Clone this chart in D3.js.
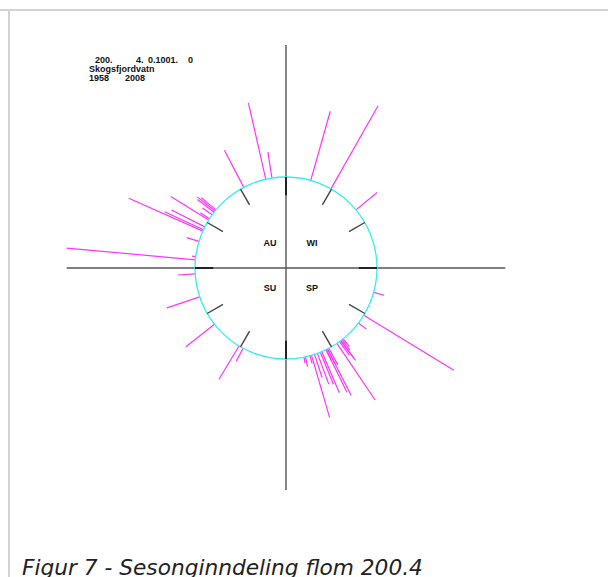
<!DOCTYPE html>
<html>
<head>
<meta charset="utf-8">
<script src="https://cdn.jsdelivr.net/npm/d3@7"></script>
<style>
  body { margin: 0; background: #fff; }
  svg { display: block; }
</style>
</head>
<body>
<div id="chart"></div>
<script>
// flood events: day of year (1 Jan at top, clockwise) and flood size relative to the circle
const floodDays = [16, 30, 51, 107, 123, 129,
  143, 144, 145, 145, 146, 148, 154, 155, 155, 156, 156, 159, 160, 162, 164, 166, 167, 170, 171,
  211, 214, 235, 255, 270, 279, 281, 291,
  298, 299, 301, 306, 307, 310, 312, 313, 314, 337, 352, 356];
const floodSize = [1.79, 2.05, 1.30, 1.12, 2.16, 1.11,
  1.11, 1.14, 1.27, 1.24, 1.18, 1.75, 1.21, 1.57, 1.18, 1.13, 1.52, 1.49, 1.38, 1.36, 1.27, 1.71, 1.09, 1.11, 1.07,
  1.16, 1.43, 1.40, 1.38, 1.19, 2.42, 1.04, 1.14,
  1.89, 1.47, 1.41, 1.49, 1.12, 1.13, 1.23, 1.25, 1.21, 1.46, 1.86, 1.29];
const seasons = ['WI', 'SP', 'SU', 'AU'];
const headerLines = [['200.', '4.', '0.1001.', '0'], ['Skogsfjordvatn'], ['1958', '2008']];
const caption = 'Figur 7 - Sesonginndeling flom 200.4';

const floods = floodDays.map((d, i) => ({day: d, size: floodSize[i]}));

const width = 608, height = 577;
const cx = 286, cy = 268;

const svg = d3.select('#chart').append('svg')
    .attr('width', width)
    .attr('height', height);

// page frame
svg.append('line').attr('x1', 0).attr('x2', width).attr('y1', 10).attr('y2', 10)
    .attr('stroke', '#d3d3d3').attr('stroke-width', 2);
svg.append('line').attr('x1', 9).attr('x2', 9).attr('y1', 10).attr('y2', height)
    .attr('stroke', '#d3d3d3').attr('stroke-width', 2);

const g = svg.append('g').attr('transform', `translate(${cx},${cy})`);

// scales
const angle = d3.scaleLinear().domain([0, 365]).range([0, 2 * Math.PI]);
const radius = d3.scaleLinear().domain([0, 1]).range([0, 91]);

// axes through the centre
g.append('line')
    .attr('x1', -radius(2.41)).attr('x2', radius(2.41)).attr('y1', 0).attr('y2', 0)
    .attr('stroke', '#555').attr('stroke-width', 1.4);
g.append('line')
    .attr('x1', 0).attr('x2', 0).attr('y1', -radius(2.45)).attr('y2', radius(2.44))
    .attr('stroke', '#555').attr('stroke-width', 1.4);

// flood lines
g.selectAll('.flood')
    .data(floods)
  .enter().append('line')
    .attr('class', 'flood')
    .each(function(d) {
      const a = angle(d.day);
      const p0 = d3.pointRadial(a, radius(1));
      const p1 = d3.pointRadial(a, radius(d.size));
      d3.select(this).attr('x1', p0[0]).attr('y1', p0[1]).attr('x2', p1[0]).attr('y2', p1[1]);
    })
    .attr('stroke', '#ff33ff')
    .attr('stroke-width', 1.2);

// circle
g.append('circle')
    .attr('r', radius(1))
    .attr('fill', 'none')
    .attr('stroke', '#33eeee')
    .attr('stroke-width', 1.3);

// month ticks
const months = d3.range(12);
g.selectAll('.tick')
    .data(months)
  .enter().append('line')
    .attr('class', 'tick')
    .each(function(m) {
      const a = m / 12 * 2 * Math.PI;
      const p0 = d3.pointRadial(a, radius(0.8));
      const p1 = d3.pointRadial(a, radius(1));
      d3.select(this).attr('x1', p0[0]).attr('y1', p0[1]).attr('x2', p1[0]).attr('y2', p1[1]);
    })
    .attr('stroke', m => m % 3 === 0 ? '#222' : '#444')
    .attr('stroke-width', m => m % 3 === 0 ? 2 : 1.4);

// season labels, one per quadrant
g.selectAll('.season')
    .data(seasons)
  .enter().append('text')
    .attr('class', 'season')
    .attr('x', (s, i) => (i < 2 ? 26 : -16))
    .attr('y', (s, i) => (i === 0 || i === 3 ? -22 : 23))
    .attr('text-anchor', 'middle')
    .attr('font-family', 'Liberation Sans, Arial, sans-serif')
    .attr('font-weight', 'bold')
    .attr('font-size', 9)
    .attr('fill', '#111')
    .text(s => s);

// header text
const headerX = [[95, 136, 148, 188], [89], [89, 125]];
headerLines.forEach((line, li) => {
  line.forEach((tok, ti) => {
    svg.append('text')
      .attr('x', headerX[li][ti])
      .attr('y', 62.5 + li * 9.4)
      .attr('font-family', 'Liberation Sans, Arial, sans-serif')
      .attr('font-weight', 'bold')
      .attr('font-size', 9)
      .attr('fill', '#111')
      .text(tok);
  });
});

// caption (cut at the bottom edge, as in the original page)
svg.append('text')
    .attr('x', 22)
    .attr('y', 575)
    .attr('font-family', 'DejaVu Sans, Verdana, sans-serif')
    .attr('font-style', 'italic')
    .attr('font-size', 21.7)
    .attr('fill', '#222')
    .text(caption);
</script>
</body>
</html>
